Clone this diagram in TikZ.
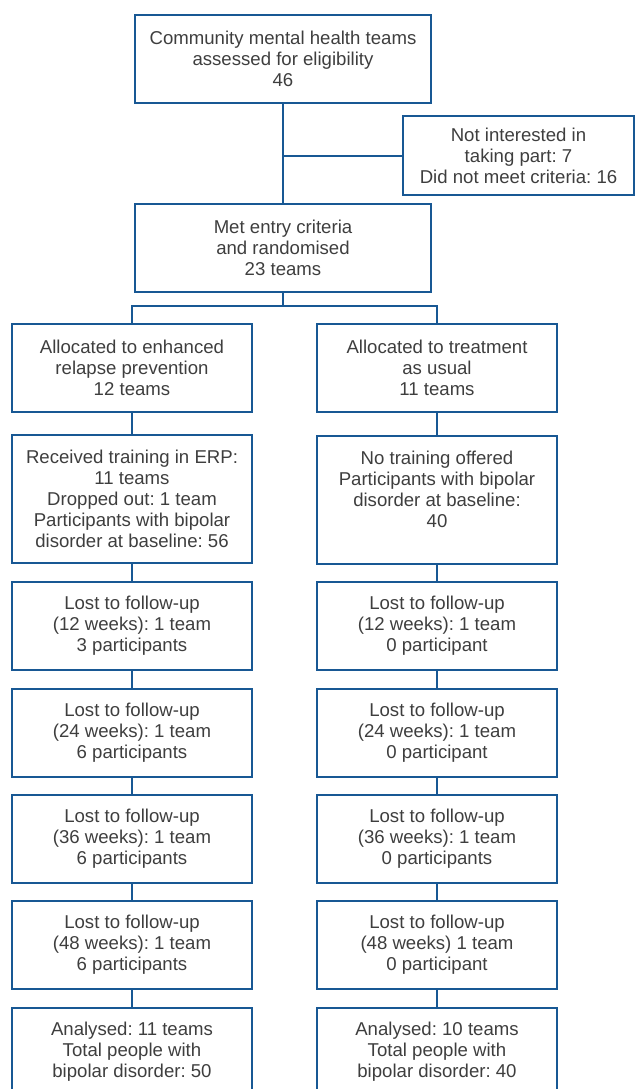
\documentclass[tikz,border=0pt]{standalone}
\usepackage{fontspec}
\setmainfont{Liberation Sans}
\usepackage{xcolor}
\usepackage{tikz}
\frenchspacing

\definecolor{boxblue}{RGB}{24,88,148}
\definecolor{txtgray}{RGB}{62,62,62}

\begin{document}
\begin{tikzpicture}[x=1pt, y=-1pt,
		flowbox/.style={draw=boxblue, line width=2pt, text=txtgray, align=center, inner sep=0pt,
			minimum width=240pt, minimum height=88pt, font=\fontsize{18.6}{21}\selectfont},
		widebox/.style={flowbox, minimum width=296pt},
		link/.style={draw=boxblue, line width=2pt}]
	\path[use as bounding box] (0,0) rectangle (636,1089);
	\clip (0,0) rectangle (636,1089);

	% screening
	\node [widebox] (screen) at (283,59) {Community mental health teams\\assessed for eligibility\\46};
	\node [flowbox, minimum width=231pt, minimum height=79pt] (excl) at (518.5,155.7) {Not interested in\\taking part: 7\\Did not meet criteria: 16};
	\node [widebox] (rand) at (283,248) {Met entry criteria\\and randomised\\23 teams};

	% enhanced relapse prevention arm
	\node [flowbox] (allocA) at (132,368) {Allocated to enhanced\\relapse prevention\\12 teams};
	\node [flowbox, minimum height=128pt] (trainA) at (132,499) {Received training in ERP:\\11 teams\\Dropped out: 1 team\\Participants with bipolar\\disorder at baseline: 56};
	\node [flowbox] (lostAa) at (132,626) {Lost to follow-up\\(12 weeks): 1 team\\3 participants};
	\node [flowbox] (lostAb) at (132,732.5) {Lost to follow-up\\(24 weeks): 1 team\\6 participants};
	\node [flowbox] (lostAc) at (132,838.5) {Lost to follow-up\\(36 weeks): 1 team\\6 participants};
	\node [flowbox] (lostAd) at (132,945) {Lost to follow-up\\(48 weeks): 1 team\\6 participants};
	\node [flowbox] (anaA) at (132,1052) {Analysed: 11 teams\\Total people with\\bipolar disorder: 50};

	% treatment as usual arm
	\node [flowbox] (allocB) at (437,368) {Allocated to treatment\\as usual\\11 teams};
	\node [flowbox, minimum height=128pt] (trainB) at (437,500) {No training offered\\Participants with bipolar\\disorder at baseline:\\40\\\mbox{}};
	\node [flowbox] (lostBa) at (437,626) {Lost to follow-up\\(12 weeks): 1 team\\0 participant};
	\node [flowbox] (lostBb) at (437,732.5) {Lost to follow-up\\(24 weeks): 1 team\\0 participant};
	\node [flowbox] (lostBc) at (437,838.5) {Lost to follow-up\\(36 weeks): 1 team\\0 participants};
	\node [flowbox] (lostBd) at (437,945) {Lost to follow-up\\(48 weeks) 1 team\\0 participant};
	\node [flowbox] (anaB) at (437,1052) {Analysed: 10 teams\\Total people with\\bipolar disorder: 40};

	% connectors
	\draw [link] (screen) -- (rand);
	\draw [link] (excl.west) -- (excl.west -| screen.south);
	\draw [link] (rand.south) -- ++(0,13) -| (allocA.north);
	\draw [link] (rand.south) -- ++(0,13) -| (allocB.north);
	\draw [link] (allocA) -- (trainA);
	\draw [link] (trainA) -- (lostAa);
	\draw [link] (lostAa) -- (lostAb);
	\draw [link] (lostAb) -- (lostAc);
	\draw [link] (lostAc) -- (lostAd);
	\draw [link] (lostAd) -- (anaA);
	\draw [link] (allocB) -- (trainB);
	\draw [link] (trainB) -- (lostBa);
	\draw [link] (lostBa) -- (lostBb);
	\draw [link] (lostBb) -- (lostBc);
	\draw [link] (lostBc) -- (lostBd);
	\draw [link] (lostBd) -- (anaB);
\end{tikzpicture}
\end{document}
